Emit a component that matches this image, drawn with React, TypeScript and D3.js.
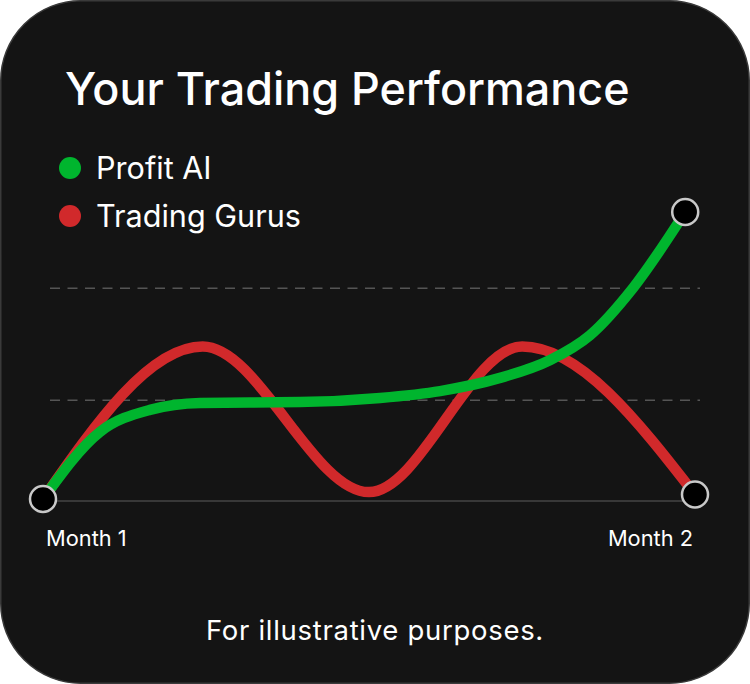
import * as d3 from 'd3';
import { useEffect, useRef } from 'react';

// progress through the period, 0 = Month 1, 100 = Month 2
const profitX = [0, 8.7, 16.4, 24.1, 39.4, 51.7, 60.9, 70.1, 77.8, 83.9, 90.5, 98.5];
const profitY = [0, 22.4, 29.8, 32.1, 32.4, 33.8, 36.1, 40.5, 46.5, 54.8, 70.6, 96];

const gurusX = [0, 24.5, 50, 73.5, 100];
const gurusY = [0, 51, 2.3, 51, 1.5];

const gridValues = [33, 70.5];
const xLabels = ['Month 1', 'Month 2'];

const series = [
  { name: 'Profit AI', color: '#00b52e' },
  { name: 'Trading Gurus', color: '#d1292b' },
];

export default function App() {
  const svgRef = useRef<SVGSVGElement | null>(null);

  useEffect(() => {
    if (!svgRef.current) return;
    const width = 750;
    const height = 684;

    const svg = d3.select(svgRef.current);
    svg.selectAll('*').remove();

    svg
      .append('rect')
      .attr('x', 0.75)
      .attr('y', 0.75)
      .attr('width', width - 1.5)
      .attr('height', height - 1.5)
      .attr('rx', 80)
      .attr('fill', '#141414')
      .attr('stroke', '#3a3a3a')
      .attr('stroke-width', 1.5);

    const font = 'Inter, "Noto Sans", sans-serif';

    svg
      .append('text')
      .attr('x', 65)
      .attr('y', 105)
      .attr('fill', '#fff')
      .attr('font-family', font)
      .attr('font-size', 44.9)
      .attr('font-weight', 500)
      .text('Your Trading Performance');

    const legend = svg.append('g');
    series.forEach((s, i) => {
      const cy = 168 + i * 48;
      legend.append('circle').attr('cx', 70).attr('cy', cy).attr('r', 11).attr('fill', s.color);
      legend
        .append('text')
        .attr('x', 96)
        .attr('y', cy + 11)
        .attr('fill', '#fff')
        .attr('font-family', font)
        .attr('font-size', 30.6)
        .text(s.name);
    });

    const x = d3.scaleLinear().domain([0, 100]).range([43, 695]);
    const y = d3.scaleLinear().domain([0, 100]).range([499, 200]);

    svg
      .append('g')
      .selectAll('line')
      .data(gridValues)
      .enter()
      .append('line')
      .attr('x1', 50)
      .attr('x2', 700)
      .attr('y1', (d) => y(d))
      .attr('y2', (d) => y(d))
      .attr('stroke', '#555')
      .attr('stroke-width', 1.5)
      .attr('stroke-dasharray', '10 7.5');

    svg
      .append('line')
      .attr('x1', x(0))
      .attr('x2', x(100))
      .attr('y1', y(0) + 2)
      .attr('y2', y(0) + 2)
      .attr('stroke', '#444')
      .attr('stroke-width', 1.5);

    const line = d3
      .line<[number, number]>()
      .x((d) => x(d[0]))
      .y((d) => y(d[1]))
      .curve(d3.curveMonotoneX);

    const gurus = gurusX.map((v, i) => [v, gurusY[i]] as [number, number]);
    const profit = profitX.map((v, i) => [v, profitY[i]] as [number, number]);

    svg
      .append('path')
      .attr('d', line(gurus))
      .attr('fill', 'none')
      .attr('stroke', series[1].color)
      .attr('stroke-width', 10.5)
      .attr('stroke-linecap', 'round');

    svg
      .append('path')
      .attr('d', line(profit))
      .attr('fill', 'none')
      .attr('stroke', series[0].color)
      .attr('stroke-width', 10.5)
      .attr('stroke-linecap', 'round');

    const ends = [gurus[0], profit[profit.length - 1], gurus[gurus.length - 1]];
    svg
      .append('g')
      .selectAll('circle')
      .data(ends)
      .enter()
      .append('circle')
      .attr('cx', (d) => x(d[0]))
      .attr('cy', (d) => y(d[1]))
      .attr('r', 13)
      .attr('fill', '#000')
      .attr('stroke', '#c8c8c8')
      .attr('stroke-width', 2.5);

    svg
      .append('text')
      .attr('x', 46)
      .attr('y', 546)
      .attr('fill', '#fff')
      .attr('font-family', font)
      .attr('font-size', 21.8)
      .text(xLabels[0]);
    svg
      .append('text')
      .attr('x', 693)
      .attr('y', 546)
      .attr('text-anchor', 'end')
      .attr('fill', '#fff')
      .attr('font-family', font)
      .attr('font-size', 21.8)
      .text(xLabels[1]);

    svg
      .append('text')
      .attr('x', 375)
      .attr('y', 640)
      .attr('text-anchor', 'middle')
      .attr('fill', '#fff')
      .attr('font-family', font)
      .attr('font-size', 27.5)
      .attr('letter-spacing', 0.7)
      .text('For illustrative purposes.');
  }, []);

  return (
    <svg
      ref={svgRef}
      width={750}
      height={684}
      style={{ position: 'absolute', left: 0, top: 0, background: '#fff' }}
    ></svg>
  );
}
